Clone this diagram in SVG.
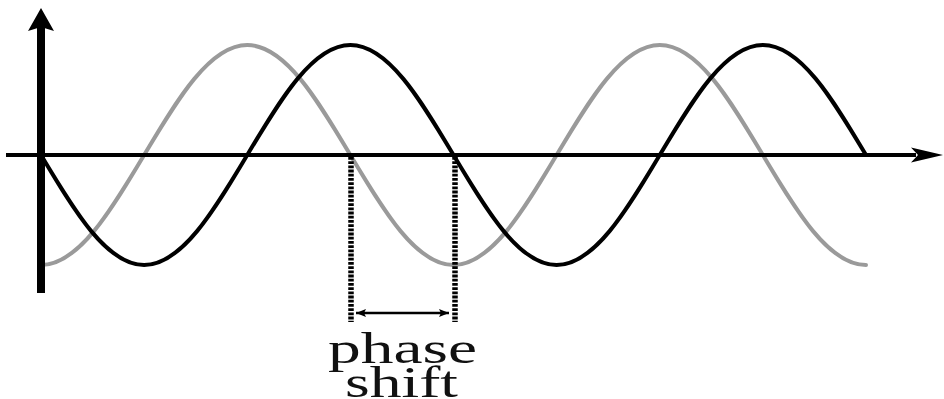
<svg xmlns="http://www.w3.org/2000/svg" width="944" height="399" viewBox="0 0 944 399">
<style>
.wave{fill:none;stroke-width:4;stroke-linecap:round;stroke-linejoin:round}
.gray{stroke:#9a9a9a}
.black{stroke:#000}
.axis{stroke:#000;fill:none}
.dot{stroke:#000;stroke-width:5.5;stroke-dasharray:2.8 1.4;fill:none}
.lbl{font-family:"Liberation Serif","Times New Roman",serif;font-size:45px;fill:#111}
</style>
<defs>
<marker id="ah" viewBox="0 0 10 8" refX="10" refY="4" markerWidth="10" markerHeight="8" markerUnits="userSpaceOnUse" orient="auto-start-reverse">
<path d="M0,0 L10,4 L0,8 L2,4 Z" fill="#000"/>
</marker>
</defs>
<g id="gray-wave">
<path class="wave gray" d="M41,265 c37.33,0 69.5,-53.65 103.125,-110 c33.63,-56.35 65.8,-110 103.125,-110 c37.33,0 69.5,53.65 103.125,110 c33.63,56.35 65.8,110 103.125,110 c37.33,0 69.5,-53.65 103.125,-110 c33.63,-56.35 65.8,-110 103.125,-110 c37.33,0 69.5,53.65 103.125,110 c33.63,56.35 65.8,110 103.125,110"/>
</g>
<g id="black-wave">
<path class="wave black" d="M41,155 c33.63,56.35 65.8,110 103.125,110 c37.33,0 69.5,-53.65 103.125,-110 c33.63,-56.35 65.8,-110 103.125,-110 c37.33,0 69.5,53.65 103.125,110 c33.63,56.35 65.8,110 103.125,110 c37.33,0 69.5,-53.65 103.125,-110 c33.63,-56.35 65.8,-110 103.125,-110 c37.33,0 69.5,53.65 103.125,110"/>
</g>
<g id="x-axis">
<line class="axis" x1="6" y1="155" x2="916" y2="155" stroke-width="4"/>
<path d="M943,155 L911,147.5 L918,155 L911,162.5 Z" fill="#000"/>
</g>
<g id="y-axis">
<line class="axis" x1="41" y1="293" x2="41" y2="26" stroke-width="8"/>
<path d="M41,8 L54,31 L41,27 L28,31 Z" fill="#000"/>
</g>
<g id="connectors">
<line class="dot" x1="351" y1="157" x2="351" y2="322"/>
<line class="dot" x1="455" y1="157" x2="455" y2="322"/>
<line x1="356" y1="313" x2="449" y2="313" stroke="#000" stroke-width="2.5" marker-start="url(#ah)" marker-end="url(#ah)"/>
</g>
<g id="label">
<text class="lbl" x="328" y="363" textLength="149" lengthAdjust="spacingAndGlyphs">phase</text>
<text class="lbl" x="345" y="397" textLength="113" lengthAdjust="spacingAndGlyphs">shift</text>
</g>
</svg>
